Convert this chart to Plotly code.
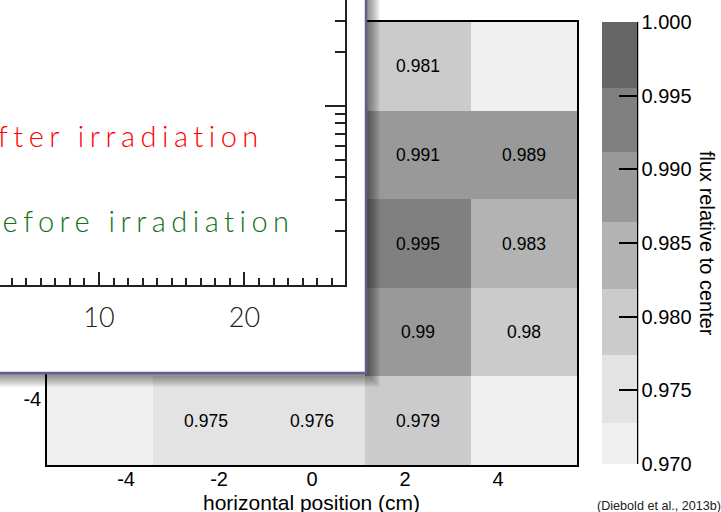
import plotly.graph_objects as go

W, H = 721, 512

# ---- heatmap data: flux relative to the centre cell ----
x_centers = [-4.56, -2.28, 0.0, 2.28, 4.56]   # horizontal bin centres (cm)
y_centers = [-4.56, -2.28, 0.0, 2.28, 4.56]   # vertical bin centres (cm), bottom -> top
flux = [
    [None, 0.975, 0.976, 0.979, None],
    [None, None, None, 0.990, 0.980],
    [None, None, None, 0.995, 0.983],
    [None, None, None, 0.991, 0.989],
    [None, None, None, 0.981, None],
]
x_ticks = [-4, -2, 0, 2, 4]
y_ticks = [-4, -2, 0, 2, 4]

z_min, z_max = 0.970, 1.000
cbar_ticks = [0.970, 0.975, 0.980, 0.985, 0.990, 0.995, 1.000]
band_edges = [0.970, 0.9728, 0.9774, 0.9819, 0.9864, 0.9912, 0.9955, 1.000]
band_colors = ["#f0f0f0", "#e3e3e3", "#cbcbcb", "#b3b3b3", "#999999", "#808080", "#666666"]

# ---- inset spectrum axes ----
inset_x_range = [3.2, 26.91]
inset_x_major = [10, 20]
inset_x_minor = [v for v in range(4, 27) if v not in inset_x_major]
inset_y_range = [-1.0, 0.592]          # log10 units
inset_y_major = [1]
inset_y_minor = [0.2, 0.3, 0.4, 0.5, 0.6, 0.7, 0.8, 0.9, 2, 3]
label_after = "After irradiation"
label_before = "Before irradiation"

ARIAL = "Liberation Sans, Arial, sans-serif"
INSET_FONT = "Lato, Noto Sans, sans-serif"


def px_x(p):
    return p / W


def px_y(p):
    return 1 - p / H


def tick_text(vals):
    # plain hyphen-minus for negative numbers
    return [str(v) for v in vals]


def spaced(s, px):
    return f'<span style="letter-spacing:{px}px">{s}</span>'


# stepped grey colour scale
colorscale = []
for i, c in enumerate(band_colors):
    lo = (band_edges[i] - z_min) / (z_max - z_min)
    hi = (band_edges[i + 1] - z_min) / (z_max - z_min)
    colorscale.append([lo, c])
    colorscale.append([hi, c])

cell_text = [["" if v is None else f"{v:g}" for v in row] for row in flux]

fig = go.Figure()
fig.add_trace(go.Heatmap(
    x=x_centers, y=y_centers, z=flux, zmin=z_min, zmax=z_max,
    colorscale=colorscale, text=cell_text, texttemplate="%{text}",
    textfont=dict(family=ARIAL, size=17.5, color="black"),
    hoverongaps=False,
    colorbar=dict(
        thickness=35, thicknessmode="pixels",
        len=442, lenmode="pixels",
        x=px_x(602), xanchor="left", xpad=0,
        y=px_y(243), yanchor="middle", ypad=0,
        outlinewidth=0,
        tickmode="array", tickvals=cbar_ticks, tickformat=".3f",
        ticks="inside", ticklen=18, tickwidth=1.5, tickcolor="black",
        tickfont=dict(family=ARIAL, size=20, color="black"),
    ),
))
# occluding panel subplot and inset subplot
fig.add_trace(go.Scatter(x=[], y=[], xaxis="x2", yaxis="y2", hoverinfo="skip", showlegend=False))
fig.add_trace(go.Scatter(x=[], y=[], xaxis="x3", yaxis="y3", hoverinfo="skip", showlegend=False))

axis_common = dict(showline=True, mirror=True, linecolor="black", linewidth=1.5,
                   ticks="", showgrid=False, zeroline=False,
                   tickfont=dict(family=ARIAL, size=20, color="black"))

fig.update_layout(
    width=W, height=H, autosize=False,
    margin=dict(l=0, r=0, t=0, b=0),
    paper_bgcolor="white", plot_bgcolor="white",
    showlegend=False,
    xaxis=dict(domain=[px_x(47), px_x(577)], range=[-5.7, 5.7], anchor="y",
               tickmode="array", tickvals=x_ticks, ticktext=tick_text(x_ticks),
               ticklabelstandoff=-5, **axis_common),
    yaxis=dict(domain=[px_y(465), px_y(22)], range=[-5.7, 5.7], anchor="x",
               tickmode="array", tickvals=y_ticks, ticktext=tick_text(y_ticks),
               **axis_common),
    xaxis2=dict(domain=[0, px_x(366)], range=[0, 1], anchor="y2", visible=False),
    yaxis2=dict(domain=[px_y(373), 1], range=[0, 1], anchor="x2", visible=False),
    xaxis3=dict(domain=[0, px_x(345)], range=inset_x_range, anchor="y3",
                showline=True, linecolor="#222", linewidth=1.5, showgrid=False, zeroline=False,
                tickmode="array", tickvals=inset_x_major, ticks="inside", ticklen=13,
                tickwidth=1.5, tickcolor="#222", ticklabelstandoff=8,
                tickfont=dict(family=INSET_FONT, size=27, color="#222", weight=300),
                minor=dict(tickmode="array", tickvals=inset_x_minor, ticks="inside",
                           ticklen=7, tickwidth=1.5, tickcolor="#222")),
    yaxis3=dict(domain=[px_y(285), 1], range=inset_y_range, type="log", anchor="x3",
                side="right", showline=True, linecolor="#222", linewidth=1.5,
                showgrid=False, zeroline=False, showticklabels=False,
                tickmode="array", tickvals=inset_y_major, ticks="inside", ticklen=20,
                tickwidth=1.5, tickcolor="#222",
                minor=dict(tickmode="array", tickvals=inset_y_minor, ticks="inside",
                           ticklen=10, tickwidth=1.5, tickcolor="#222")),
)

shapes = [
    # light frame fill behind empty cells
    dict(type="rect", xref="x", yref="y", x0=-5.7, x1=5.7, y0=-5.7, y1=5.7,
         fillcolor="#f0f0f0", line=dict(width=0), layer="below"),
    # colour bar spine
    dict(type="line", xref="paper", yref="paper", x0=px_x(637.5), x1=px_x(637.5),
         y0=px_y(22), y1=px_y(464), line=dict(color="black", width=1.5), layer="above"),
]
# soft drop shadow of the inset panel
for w in range(1, 15):
    path = (f"M {px_x(366)},{px_y(0)} L {px_x(366 + w)},{px_y(0)} "
            f"L {px_x(366 + w)},{px_y(373 + w)} L {px_x(0)},{px_y(373 + w)} "
            f"L {px_x(0)},{px_y(373)} L {px_x(366)},{px_y(373)} Z")
    shapes.append(dict(type="path", xref="paper", yref="paper", path=path,
                       fillcolor="black", opacity=0.04, line=dict(width=0), layer="above"))
# panel border
shapes.append(dict(type="line", xref="paper", yref="paper", x0=px_x(366), x1=px_x(366),
                   y0=px_y(0), y1=px_y(374), line=dict(color="#6a5a91", width=2.5), layer="above"))
shapes.append(dict(type="line", xref="paper", yref="paper", x0=px_x(0), x1=px_x(367),
                   y0=px_y(373), y1=px_y(373), line=dict(color="#6a5a91", width=2.5), layer="above"))
fig.update_layout(shapes=shapes)

annotations = [
    dict(text=spaced(label_after, 5.5), x=px_x(266), y=px_y(135), xanchor="right", yanchor="middle",
         font=dict(family=INSET_FONT, size=29, color="#ff0000", weight=300)),
    dict(text=spaced(label_before, 5.5), x=px_x(297), y=px_y(220), xanchor="right", yanchor="middle",
         font=dict(family=INSET_FONT, size=29, color="#127018", weight=300)),
    dict(text="horizontal position (cm)", x=px_x(311), y=px_y(502), xanchor="center",
         yanchor="middle", font=dict(family=ARIAL, size=21, color="black")),
    dict(text="flux relative to center", x=px_x(707), y=px_y(243), xanchor="center",
         yanchor="middle", textangle=90, font=dict(family=ARIAL, size=20, color="black")),
    dict(text="(Diebold et al., 2013b)", x=px_x(595), y=px_y(506), xanchor="left",
         yanchor="middle", font=dict(family=ARIAL, size=12.6, color="#222")),
]
for a in annotations:
    a.update(xref="paper", yref="paper", showarrow=False)
fig.update_layout(annotations=annotations)

fig.write_html("out.html")
